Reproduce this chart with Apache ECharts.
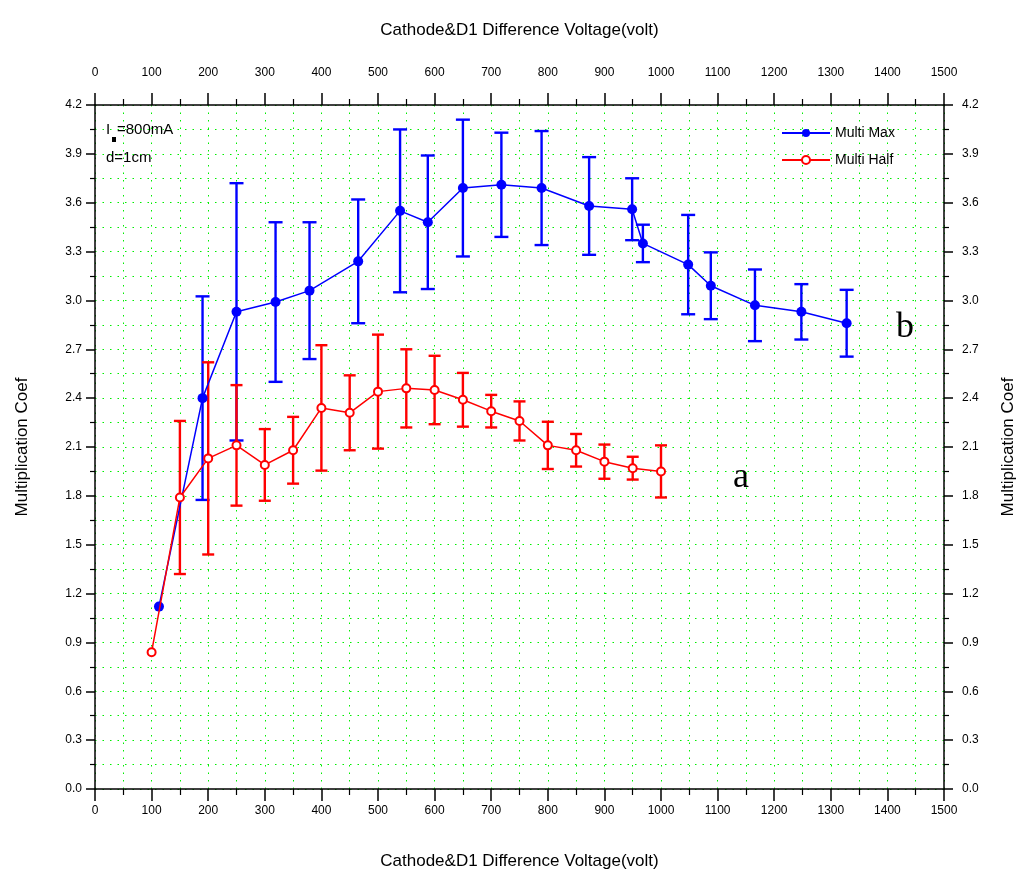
<!DOCTYPE html>
<html>
<head>
<meta charset="utf-8">
<script src="https://cdn.jsdelivr.net/npm/echarts@6/dist/echarts.min.js"></script>
<style>html,body{margin:0;padding:0;background:#fff;overflow:hidden}#c{width:1025px;height:875px}</style>
</head>
<body>
<div id="c"></div>
<script>
// Multi Max (blue)
const xMax = [113, 190, 250, 319, 379, 465, 539, 588, 650, 718, 789, 873, 949, 968, 1048, 1088, 1166, 1248, 1328];
const yMax = [1.12, 2.40, 2.93, 2.99, 3.06, 3.24, 3.55, 3.48, 3.69, 3.71, 3.69, 3.58, 3.56, 3.35, 3.22, 3.09, 2.97, 2.93, 2.86];
const errMax = [0, 0.625, 0.79, 0.49, 0.42, 0.38, 0.50, 0.41, 0.42, 0.32, 0.35, 0.30, 0.19, 0.115, 0.305, 0.205, 0.22, 0.17, 0.205];
// Multi Half (red)
const xHalf = [100, 150, 200, 250, 300, 350, 400, 450, 500, 550, 600, 650, 700, 750, 800, 850, 900, 950, 1000];
const yHalf = [0.84, 1.79, 2.03, 2.11, 1.99, 2.08, 2.34, 2.31, 2.44, 2.46, 2.45, 2.39, 2.32, 2.26, 2.11, 2.08, 2.01, 1.97, 1.95];
const errHalf = [0, 0.47, 0.59, 0.37, 0.22, 0.205, 0.385, 0.23, 0.35, 0.24, 0.21, 0.165, 0.10, 0.12, 0.145, 0.10, 0.105, 0.07, 0.16];

const seriesNames = ['Multi Max', 'Multi Half'];
const axisTitleX = 'Cathode&D1 Difference Voltage(volt)';
const axisTitleY = 'Multiplication Coef';
const notes = ['=800mA', 'd=1cm'];

const FONT = 'Liberation Sans, Arial, sans-serif';
const green = '#00ee00';
const gridDots = {color: green, width: 1, type: [1.5, 6]};

function errData(xs, ys, es) {
  return xs.map((x, i) => [x, ys[i] - es[i], ys[i] + es[i], es[i]]);
}
function errRender(color, hw) {
  return function (params, api) {
    if (api.value(3) <= 0) return null;
    const x = api.value(0);
    const top = api.coord([x, api.value(2)]);
    const bot = api.coord([x, api.value(1)]);
    const st = {stroke: color, lineWidth: 2.4};
    return {type: 'group', children: [
      {type: 'line', shape: {x1: top[0], y1: top[1], x2: bot[0], y2: bot[1]}, style: st},
      {type: 'line', shape: {x1: top[0] - hw, y1: top[1], x2: top[0] + hw, y2: top[1]}, style: st},
      {type: 'line', shape: {x1: bot[0] - hw, y1: bot[1], x2: bot[0] + hw, y2: bot[1]}, style: st}
    ]};
  };
}

const xCommon = {
  type: 'value', min: 0, max: 1500, interval: 100,
  axisLine: {show: true, onZero: false, lineStyle: {color: '#000', width: 1.5}},
  axisTick: {show: true, inside: false, length: 12, lineStyle: {color: '#000', width: 1.5}},
  minorTick: {show: true, splitNumber: 2, length: 6, lineStyle: {color: '#000', width: 1.2}},
  axisLabel: {color: '#000', fontSize: 12, fontFamily: FONT, formatter: v => String(v)},
  nameLocation: 'middle', nameTextStyle: {color: '#000', fontSize: 17, fontFamily: FONT}
};
const yCommon = {
  type: 'value', min: 0, max: 4.2, interval: 0.3,
  axisLine: {show: true, onZero: false, lineStyle: {color: '#000', width: 1.5}},
  axisTick: {show: true, inside: false, length: 9, lineStyle: {color: '#000', width: 1.5}},
  minorTick: {show: true, splitNumber: 2, length: 5, lineStyle: {color: '#000', width: 1.2}},
  axisLabel: {color: '#000', fontSize: 12, fontFamily: FONT, formatter: v => v.toFixed(1)},
  nameLocation: 'middle', nameRotate: 90, nameTextStyle: {color: '#000', fontSize: 17, fontFamily: FONT}
};

const option = {
  animation: false,
  backgroundColor: '#fff',
  grid: {left: 95, right: 80, top: 105, bottom: 84.5, containLabel: false},
  legend: {
    orient: 'vertical', left: 776, top: 121, itemWidth: 48, itemHeight: 10, itemGap: 13,
    textStyle: {color: '#000', fontSize: 14, fontFamily: FONT},
    data: seriesNames
  },
  xAxis: [
    Object.assign({}, xCommon, {
      position: 'bottom', name: axisTitleX, nameGap: 64,
      axisLabel: Object.assign({}, xCommon.axisLabel, {margin: 16}),
      splitLine: {show: true, lineStyle: gridDots},
      minorSplitLine: {show: true, lineStyle: gridDots}
    }),
    Object.assign({}, xCommon, {
      position: 'top', name: axisTitleX, nameGap: 66,
      axisLabel: Object.assign({}, xCommon.axisLabel, {margin: 26}),
      splitLine: {show: false}
    })
  ],
  yAxis: [
    Object.assign({}, yCommon, {
      position: 'left', name: axisTitleY, nameGap: 64,
      axisLabel: Object.assign({}, yCommon.axisLabel, {margin: 13}),
      splitLine: {show: true, lineStyle: gridDots},
      minorSplitLine: {show: true, lineStyle: gridDots}
    }),
    Object.assign({}, yCommon, {
      position: 'right', name: axisTitleY, nameGap: 56,
      axisLabel: Object.assign({}, yCommon.axisLabel, {margin: 18}),
      splitLine: {show: false}
    })
  ],
  series: [
    {
      type: 'custom', xAxisIndex: 0, yAxisIndex: 0, z: 3,
      renderItem: errRender('#0000ff', 7),
      data: errData(xMax, yMax, errMax), silent: true
    },
    {
      type: 'custom', xAxisIndex: 0, yAxisIndex: 0, z: 4,
      renderItem: errRender('#ff0000', 6),
      data: errData(xHalf, yHalf, errHalf), silent: true
    },
    {
      name: seriesNames[0], type: 'line', xAxisIndex: 0, yAxisIndex: 0, z: 5,
      data: xMax.map((x, i) => [x, yMax[i]]),
      symbol: 'circle', symbolSize: 10,
      itemStyle: {color: '#0000ff'},
      lineStyle: {color: '#0000ff', width: 1.5}
    },
    {
      name: seriesNames[1], type: 'line', xAxisIndex: 0, yAxisIndex: 0, z: 6,
      data: xHalf.map((x, i) => [x, yHalf[i]]),
      symbol: 'emptyCircle', symbolSize: 8,
      itemStyle: {color: '#ff0000', borderColor: '#ff0000', borderWidth: 1.5},
      lineStyle: {color: '#ff0000', width: 1.5}
    }
  ],
  graphic: [
    {type: 'text', left: 106, top: 122, style: {text: 'I', fill: '#000', font: '15px ' + FONT}},
    {type: 'rect', shape: {x: 112, y: 137, width: 4, height: 5}, style: {fill: '#000'}},
    {type: 'text', left: 117, top: 122, style: {text: notes[0], fill: '#000', font: '15px ' + FONT}},
    {type: 'text', left: 106, top: 150, style: {text: notes[1], fill: '#000', font: '15px ' + FONT}},
    {type: 'text', left: 896, top: 310, style: {text: 'b', fill: '#000', font: '36px "Liberation Serif", "DejaVu Serif", serif'}},
    {type: 'text', left: 733, top: 460, style: {text: 'a', fill: '#000', font: '36px "Liberation Serif", "DejaVu Serif", serif'}}
  ]
};

const chart = echarts.init(document.getElementById('c'), null, {renderer: 'canvas'});
chart.setOption(option);
</script>
</body>
</html>
